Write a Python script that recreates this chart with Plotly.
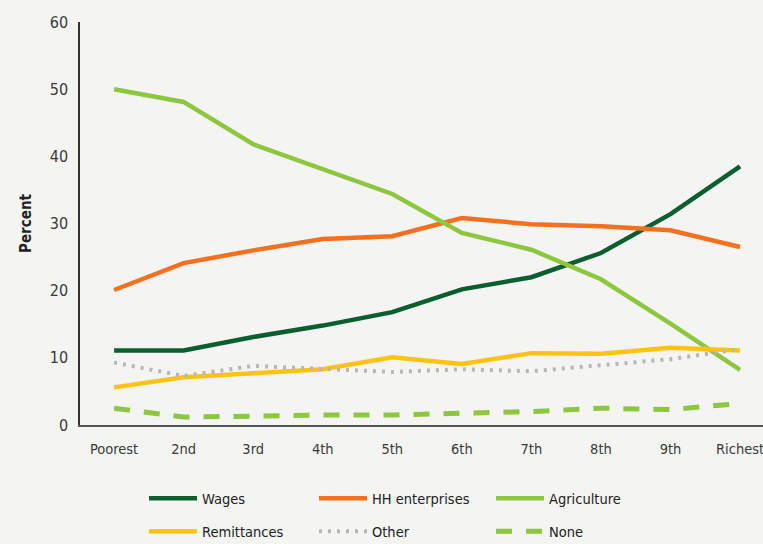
import plotly.graph_objects as go

categories = ["Poorest", "2nd", "3rd", "4th", "5th", "6th", "7th", "8th", "9th", "Richest"]
wages = [11.1, 11.1, 13.1, 14.8, 16.8, 20.2, 22.0, 25.6, 31.4, 38.5]
hh_enterprises = [20.1, 24.1, 26.0, 27.7, 28.1, 30.8, 29.9, 29.6, 29.0, 26.5]
agriculture = [50.0, 48.1, 41.8, 38.1, 34.4, 28.6, 26.1, 21.7, 15.1, 8.2]
remittances = [5.6, 7.1, 7.7, 8.3, 10.1, 9.1, 10.7, 10.6, 11.5, 11.1]
other = [9.3, 7.3, 8.8, 8.3, 7.9, 8.3, 8.0, 8.9, 9.8, 11.3]
none = [2.5, 1.2, 1.3, 1.5, 1.5, 1.8, 2.0, 2.5, 2.3, 3.2]
y_ticks = [0, 10, 20, 30, 40, 50, 60]

FONT = "DejaVu Sans Condensed, DejaVu Sans, sans-serif"

# name, values, color, dash, width, legend column
series = [
    ("Wages", wages, "#0b5e2e", "solid", 4.5, "legend"),
    ("HH enterprises", hh_enterprises, "#f37021", "solid", 4.5, "legend2"),
    ("Agriculture", agriculture, "#8dc63f", "solid", 4.5, "legend3"),
    ("Remittances", remittances, "#fdc314", "solid", 4.5, "legend"),
    ("Other", other, "#b6b6bb", "3px,6px", 4, "legend2"),
    ("None", none, "#8dc63f", "16px,14px", 5, "legend3"),
]

fig = go.Figure()
for name, vals, color, dash, w, leg in series:
    fig.add_trace(go.Scatter(
        x=list(range(len(categories))), y=vals, name=name, mode="lines",
        line=dict(color=color, width=w, dash=dash),
        legend=leg, legendgroup=name,
    ))

leg_common = dict(
    orientation="v", y=0.1132, yref="container", xanchor="left", yanchor="top",
    font=dict(family=FONT, size=14.5, color="#222222"),
    bgcolor="rgba(0,0,0,0)", tracegroupgap=11, itemwidth=48,
)

fig.update_layout(
    width=763, height=544,
    paper_bgcolor="#f4f4f2", plot_bgcolor="#f4f4f2",
    margin=dict(l=80, r=0, t=22, b=119),
    font=dict(family=FONT, size=15, color="#3a3a3a"),
    showlegend=True,
    legend=dict(x=0.0937, **leg_common),
    legend2=dict(x=0.3426, **leg_common),
    legend3=dict(x=0.6018, **leg_common),
    xaxis=dict(
        tickmode="array", tickvals=list(range(len(categories))), ticktext=categories,
        range=[-0.49, 9.33], showgrid=False, zeroline=False,
        showline=True, linecolor="#555555", linewidth=2, ticks="",
        ticklabelstandoff=10, automargin=False, ticklabeloverflow="allow",
        tickfont=dict(size=14.5),
    ),
    yaxis=dict(
        range=[0, 60], tickvals=y_ticks, showgrid=False, zeroline=False,
        showline=True, linecolor="#333333", linewidth=1.5, ticks="",
        ticklabelstandoff=7, automargin=False, tickfont=dict(size=16),
        title=dict(text="<b>Percent</b>", font=dict(family=FONT, size=15, color="#222222"), standoff=14),
    ),
)

fig.write_html("out.html", config={"displayModeBar": False})

# remove the browser's default page margin so the figure sits at the window origin
with open("out.html", "r", encoding="utf-8") as f:
    html = f.read()
html = html.replace("<head>", "<head><style>html,body{margin:0;padding:0;overflow:hidden;}</style>", 1)
with open("out.html", "w", encoding="utf-8") as f:
    f.write(html)
